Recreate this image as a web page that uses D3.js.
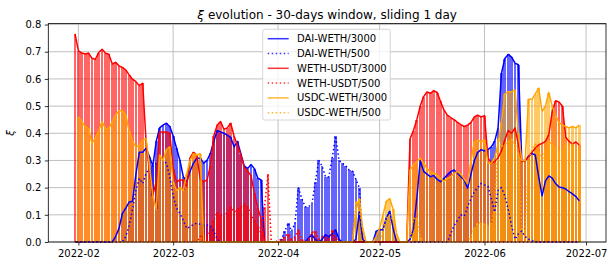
<!DOCTYPE html>
<html>
<head>
<meta charset="utf-8">
<script src="https://cdn.jsdelivr.net/npm/d3@7"></script>
<style>
  body { margin: 0; background: #fff; }
  svg { display: block; font-family: "DejaVu Sans", sans-serif; }
</style>
</head>
<body>
<div id="chart"></div>
<script>
// one value per day, starting 2022-01-31 (150 days)
const firstDay = "2022-01-31";

const seriesNames = ["DAI-WETH/3000", "DAI-WETH/500", "WETH-USDT/3000", "WETH-USDT/500", "USDC-WETH/3000", "USDC-WETH/500"];
const seriesColors = ["blue", "blue", "red", "red", "orange", "orange"];
const seriesDotted = [false, true, false, true, false, true];

const daiWeth3000 = [
  0, 0, 0, 0, 0, 0, 0, 0, 0, 0,
  0, 0, 0.02, 0.05, 0.105, 0.125, 0.147, 0.15, 0.25, 0.33,
  0.33, 0.345, 0.314, 0.28, 0.37, 0.42, 0.43, 0.437, 0.425, 0.39,
  0.345, 0.30, 0.24, 0.222, 0.26, 0.29, 0.308, 0.308, 0.29, 0.30,
  0.326, 0.37, 0.41, 0.405, 0.40, 0.393, 0.385, 0.35, 0.37, 0.325,
  0.28, 0.27, 0.285, 0.27, 0.235, 0.228, 0, 0, 0, 0,
  0, 0, 0, 0, 0, 0, 0, 0, 0, 0.015,
  0.026, 0.01, 0, 0.01, 0.027, 0.02, 0.03, 0.045, 0.01, 0,
  0, 0, 0, 0.01, 0.11, 0.01, 0, 0, 0, 0.04,
  0.045, 0.045, 0.09, 0.113, 0.05, 0, 0, 0, 0, 0.01,
  0.05, 0.16, 0.30, 0.26, 0.25, 0.24, 0.245, 0.23, 0.222, 0.234,
  0.247, 0.259, 0.265, 0.253, 0.24, 0.228, 0.198, 0.25, 0.30, 0.33,
  0.34, 0.335, 0.34, 0.35, 0.37, 0.42, 0.62, 0.675, 0.69, 0.68,
  0.658, 0.652, 0.30, 0.30, 0.315, 0.326, 0.32, 0.24, 0.17, 0.225,
  0.243, 0.235, 0.215, 0.202, 0.20, 0.195, 0.185, 0.177, 0.167, 0.152
];

const daiWeth500 = [
  0, 0, 0, 0, 0, 0, 0, 0, 0, 0,
  0, 0, 0, 0, 0, 0.02, 0.06, 0.12, 0.19, 0.234,
  0.215, 0.253, 0.27, 0.283, 0.29, 0.30, 0.302, 0.29, 0.24, 0.17,
  0.125, 0.105, 0.08, 0.05, 0.056, 0.065, 0.069, 0.065, 0.063, 0.063,
  0.06, 0.04, 0.01, 0, 0, 0, 0, 0, 0, 0,
  0, 0, 0, 0, 0, 0, 0, 0, 0, 0,
  0, 0.01, 0.04, 0.07, 0.04, 0.07, 0.20, 0.16, 0.13, 0.13,
  0.14, 0.22, 0.30, 0.28, 0.24, 0.24, 0.31, 0.39, 0.30, 0.29,
  0.28, 0.265, 0.26, 0.23, 0.20, 0, 0, 0, 0, 0,
  0, 0, 0, 0, 0, 0, 0, 0, 0, 0,
  0, 0, 0, 0, 0, 0, 0, 0, 0, 0,
  0, 0.03, 0.06, 0.08, 0.10, 0.095, 0.13, 0.16, 0.185, 0.20,
  0.215, 0.21, 0.205, 0.16, 0.11, 0.19, 0.20, 0.17, 0.12, 0.06,
  0.01, 0.03, 0.04, 0.02, 0.01, 0.005, 0, 0, 0, 0,
  0, 0, 0, 0, 0, 0, 0, 0, 0, 0
];

const wethUsdt3000 = [
  0.766, 0.704, 0.695, 0.692, 0.695, 0.676, 0.672, 0.697, 0.709, 0.695,
  0.691, 0.655, 0.661, 0.648, 0.642, 0.633, 0.615, 0.599, 0.590, 0.575,
  0.584, 0.37, 0.26, 0.175, 0.22, 0.405, 0.405, 0.405, 0.40, 0.27,
  0.222, 0.228, 0.228, 0.204, 0.31, 0.33, 0.32, 0.23, 0.222, 0.228,
  0.28, 0.39, 0.43, 0.443, 0.415, 0.42, 0.437, 0.39, 0.355, 0.32,
  0.275, 0.26, 0.245, 0.18, 0.125, 0.085, 0, 0, 0, 0,
  0, 0, 0, 0, 0, 0, 0, 0, 0, 0,
  0, 0, 0, 0, 0, 0, 0, 0, 0, 0,
  0, 0, 0, 0, 0, 0, 0, 0, 0, 0,
  0, 0, 0, 0, 0, 0, 0, 0, 0, 0.38,
  0.41, 0.45, 0.50, 0.535, 0.552, 0.547, 0.557, 0.55, 0.517, 0.486,
  0.467, 0.458, 0.45, 0.44, 0.432, 0.425, 0.43, 0.44, 0.46, 0.467,
  0.46, 0.465, 0.31, 0.29, 0.295, 0.31, 0.335, 0.375, 0.41, 0.40,
  0.42, 0.36, 0.296, 0.30, 0.315, 0.33, 0.345, 0.358, 0.363, 0.37,
  0.395, 0.48, 0.52, 0.515, 0.50, 0.385, 0.37, 0.36, 0.368, 0.357
];

const wethUsdt500 = [
  0, 0, 0, 0, 0, 0, 0, 0, 0, 0,
  0, 0, 0, 0, 0, 0, 0, 0, 0, 0,
  0, 0, 0, 0, 0, 0, 0, 0, 0, 0,
  0, 0, 0, 0, 0, 0, 0, 0.02, 0.03, 0.02,
  0.04, 0.08, 0.11, 0.10, 0.09, 0.11, 0.13, 0.11, 0.12, 0.13,
  0.14, 0.13, 0.10, 0.08, 0.06, 0.03, 0.13, 0.25, 0, 0,
  0.005, 0.01, 0.02, 0.03, 0.01, 0.02, 0.045, 0.01, 0, 0.01,
  0.035, 0.04, 0.01, 0.02, 0.02, 0.01, 0.045, 0.02, 0, 0,
  0, 0, 0, 0, 0, 0, 0, 0, 0, 0,
  0, 0, 0, 0, 0, 0, 0, 0, 0, 0,
  0, 0, 0, 0, 0, 0, 0, 0, 0, 0,
  0, 0, 0, 0, 0, 0, 0, 0, 0, 0,
  0, 0, 0, 0, 0, 0, 0, 0, 0, 0,
  0, 0, 0, 0, 0, 0, 0, 0, 0, 0,
  0, 0, 0, 0, 0, 0, 0, 0, 0, 0
];

// USDC pools have no value on the first day
const usdcWeth3000 = [
  null, 0.461, 0.443, 0.425, 0.418, 0.363, 0.382, 0.41, 0.443, 0.418,
  0.418, 0.443, 0.467, 0.483, 0.483, 0.467, 0.41, 0.37, 0.35, 0.355,
  0.375, 0.38, 0.28, 0.17, 0.12, 0.32, 0.30, 0.34, 0.35, 0.22,
  0.19, 0.20, 0.19, 0.25, 0.30, 0.325, 0.32, 0.325, 0, 0,
  0, 0, 0, 0, 0, 0, 0, 0, 0, 0,
  0, 0, 0, 0, 0, 0, 0, 0, 0, 0,
  0, 0, 0, 0, 0, 0, 0, 0, 0, 0,
  0, 0, 0, 0, 0, 0, 0, 0, 0, 0,
  0, 0, 0, 0.12, 0.16, 0.05, 0, 0, 0, 0.02,
  0.05, 0.10, 0.15, 0.16, 0.12, 0.03, 0, 0, 0, 0.265,
  0.283, 0.296, 0.308, 0.29, 0.271, 0.259, 0.253, 0.247, 0.234, 0.222,
  0.234, 0.24, 0.253, 0.259, 0.25, 0.232, 0.215, 0.30, 0.369, 0.375,
  0.369, 0.375, 0.29, 0.29, 0.31, 0.36, 0.44, 0.545, 0.553, 0.553,
  0.56, 0.40, 0.30, 0.30, 0.525, 0.525, 0.545, 0.566, 0.48, 0.50,
  0.55, 0.50, 0.465, 0.44, 0.43, 0.425, 0.42, 0.425, 0.42, 0.43
];

const usdcWeth500 = [
  null, 0, 0, 0, 0, 0, 0, 0, 0, 0,
  0, 0, 0, 0, 0, 0, 0, 0, 0, 0,
  0, 0, 0, 0, 0, 0, 0, 0, 0, 0,
  0, 0, 0, 0, 0, 0, 0, 0, 0, 0,
  0, 0, 0, 0, 0, 0, 0, 0, 0, 0,
  0, 0, 0, 0, 0, 0, 0, 0, 0, 0,
  0, 0, 0, 0, 0, 0, 0, 0, 0, 0,
  0, 0, 0, 0, 0, 0, 0, 0, 0, 0,
  0, 0, 0, 0.15, 0.12, 0.04, 0, 0, 0, 0,
  0, 0.04, 0.09, 0.10, 0.08, 0.02, 0, 0, 0, 0,
  0.085, 0.09, 0.02, 0, 0, 0, 0, 0, 0, 0,
  0, 0, 0, 0, 0, 0, 0, 0.02, 0.05, 0.07,
  0.07, 0.065, 0.06, 0.07, 0.12, 0.38, 0.35, 0.36, 0.37, 0.38,
  0.36, 0.33, 0.05, 0.04, 0.30, 0.34, 0.36, 0.33, 0.30, 0.34,
  0.37, 0.36, 0.35, 0.33, 0.34, 0.36, 0.35, 0.36, 0.35, 0.34
];

const yTicks = [0, 0.1, 0.2, 0.3, 0.4, 0.5, 0.6, 0.7, 0.8];
const monthTicks = ["2022-02-01", "2022-03-01", "2022-04-01", "2022-05-01", "2022-06-01", "2022-07-01"];

const titleText = " evolution - 30-days window, sliding 1 day";

const w = 614, h = 266;
const plot = { left: 48.3, right: 606, top: 23.6, bottom: 242 };
const DAY = 864e5;

const allSeries = [daiWeth3000, daiWeth500, wethUsdt3000, wethUsdt500, usdcWeth3000, usdcWeth500];
const start = d3.utcParse("%Y-%m-%d")(firstDay);
const days = d3.utcDay.range(start, d3.utcDay.offset(start, daiWeth3000.length));

const x = d3.scaleUtc()
  .domain([new Date(+start - 7.89 * DAY), new Date(+start + 156.89 * DAY)])
  .range([plot.left, plot.right]);
const y = d3.scaleLinear().domain([0, 0.8035]).range([plot.bottom, plot.top]);

const svg = d3.select("#chart").append("svg")
  .attr("width", w).attr("height", h);

// grid
const grid = svg.append("g").attr("stroke", "#b0b0b0").attr("stroke-width", 0.8);
grid.selectAll(".gy").data(yTicks).enter().append("line")
  .attr("x1", plot.left).attr("x2", plot.right)
  .attr("y1", d => y(d)).attr("y2", d => y(d));
grid.selectAll(".gx").data(monthTicks).enter().append("line")
  .attr("y1", plot.top).attr("y2", plot.bottom)
  .attr("x1", d => x(new Date(d))).attr("x2", d => x(new Date(d)));

// bars first (all series), lines on top
const barLayer = svg.append("g").attr("shape-rendering", "crispEdges");
allSeries.forEach((vals, si) => {
  const pts = vals.map((v, i) => ({ t: days[i], v: v })).filter(p => p.v > 0);
  barLayer.append("g")
    .attr("fill", seriesColors[si])
    .attr("fill-opacity", 0.6)
    .selectAll("rect")
    .data(pts).enter().append("rect")
    .attr("x", p => Math.round(x(new Date(+p.t - 0.4 * DAY))))
    .attr("width", p => Math.round(x(new Date(+p.t + 0.4 * DAY))) - Math.round(x(new Date(+p.t - 0.4 * DAY))))
    .attr("y", p => Math.round(y(p.v)))
    .attr("height", p => Math.round(y(0)) - Math.round(y(p.v)));
});

const line = d3.line()
  .defined(p => p.v !== null)
  .x(p => x(p.t))
  .y(p => y(p.v));

allSeries.forEach((vals, si) => {
  svg.append("path")
    .datum(vals.map((v, i) => ({ t: days[i], v: v })))
    .attr("fill", "none")
    .attr("stroke", seriesColors[si])
    .attr("stroke-width", 1.5)
    .attr("stroke-linejoin", "round")
    .attr("stroke-dasharray", seriesDotted[si] ? "1.5,2.5" : null)
    .attr("d", line);
});

// axes
const yAxis = svg.append("g")
  .attr("transform", `translate(${plot.left},0)`)
  .call(d3.axisLeft(y).tickValues(yTicks).tickFormat(d3.format(".1f")).tickSize(3.5).tickPadding(3.5));
const xAxis = svg.append("g")
  .attr("transform", `translate(0,${plot.bottom})`)
  .call(d3.axisBottom(x).tickValues(monthTicks.map(d => new Date(d)))
    .tickFormat(d3.utcFormat("%Y-%m")).tickSize(3.5).tickPadding(4.5));
[xAxis, yAxis].forEach(a => {
  a.select(".domain").remove();
  a.selectAll("line").attr("stroke", "#000").attr("stroke-width", 0.8);
  a.selectAll("text").attr("fill", "#000").style("font-size", "10px")
    .style("font-family", "'DejaVu Sans', sans-serif");
});

// spines
svg.append("rect")
  .attr("x", plot.left).attr("y", plot.top)
  .attr("width", plot.right - plot.left).attr("height", plot.bottom - plot.top)
  .attr("fill", "none").attr("stroke", "#000").attr("stroke-width", 0.8);

// title
const title = svg.append("text")
  .attr("x", (plot.left + plot.right) / 2).attr("y", 18.5)
  .attr("text-anchor", "middle").style("font-size", "12px").attr("fill", "#000");
title.append("tspan").style("font-style", "italic").text("ξ");
title.append("tspan").text(titleText);

// y label
svg.append("text")
  .attr("transform", "translate(14,133) rotate(-90)")
  .attr("text-anchor", "middle")
  .style("font-size", "10px").style("font-style", "italic")
  .text("ξ");

// legend
const lg = svg.append("g");
lg.append("rect")
  .attr("x", 262.7).attr("y", 29.3).attr("width", 127.6).attr("height", 90.7)
  .attr("rx", 2).attr("fill", "#fff").attr("fill-opacity", 0.8)
  .attr("stroke", "#cccccc").attr("stroke-width", 0.8);
seriesNames.forEach((name, i) => {
  const cy = 38.7 + i * 14.8;
  lg.append("line")
    .attr("x1", 267.7).attr("x2", 288.7).attr("y1", cy).attr("y2", cy)
    .attr("stroke", seriesColors[i]).attr("stroke-width", 1.5).attr("stroke-opacity", 0.8)
    .attr("stroke-dasharray", seriesDotted[i] ? "1.5,2.5" : null);
  lg.append("text")
    .attr("x", 297).attr("y", cy).attr("dy", "0.35em")
    .style("font-size", "10px").attr("fill", "#000")
    .text(name);
});
</script>
</body>
</html>
